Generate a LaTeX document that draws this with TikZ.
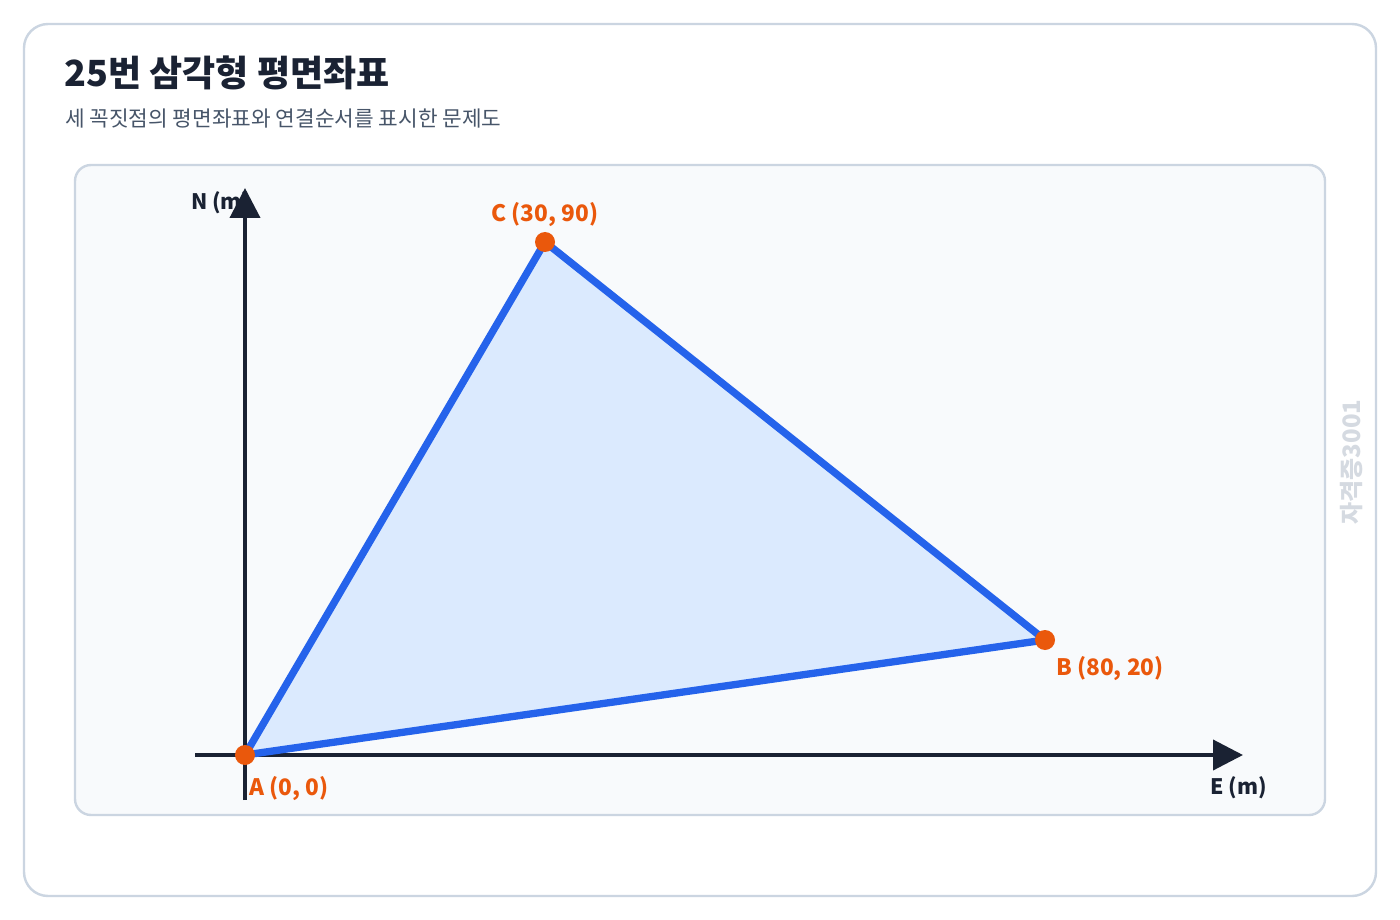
\documentclass[tikz,border=0pt]{standalone}
\usepackage{fontspec}
\setmainfont{Noto Sans CJK KR}
\usepackage{tikz}
\usetikzlibrary{arrows.meta}
\definecolor{edgeblue}{HTML}{2563EB}
\definecolor{fillblue}{HTML}{DBEAFE}
\definecolor{ptorange}{HTML}{EA580C}
\definecolor{axisdark}{HTML}{1A2233}
\definecolor{framegray}{HTML}{CBD5E1}
\definecolor{panelbg}{HTML}{F8FAFC}
\definecolor{subgray}{HTML}{475569}
\definecolor{markgray}{HTML}{D5DAE1}
\tikzset{
  axisline/.style={draw=axisdark,line width=3pt,-{Triangle[length=22.5pt,width=22.5pt]}},
  ptdot/.style={circle,fill=ptorange,inner sep=0pt,minimum size=15pt},
  ptlabel/.style={text=ptorange,font=\bfseries\fontsize{17}{19}\selectfont,inner sep=0pt},
  axislabel/.style={text=axisdark,font=\bfseries\fontsize{16}{18}\selectfont,inner sep=0pt}
}
\begin{document}
\begin{tikzpicture}[x=0.75pt,y=-0.75pt]
\useasboundingbox (0,0) rectangle (1400,920);
\fill[white] (0,0) rectangle (1400,920);
\draw[framegray,line width=1.8pt,rounded corners=18pt] (24,24) rectangle (1376,896);
\node[anchor=west,inner sep=0pt,text=axisdark,font=\bfseries\fontsize{27}{31}\selectfont] (title) at (64,73) {25번 삼각형 평면좌표};
\node[anchor=west,inner sep=0pt,text=subgray,font=\fontsize{16}{18}\selectfont] (subtitle) at (65,119) {세 꼭짓점의 평면좌표와 연결순서를 표시한 문제도};
\draw[framegray,fill=panelbg,line width=1.8pt,rounded corners=12pt] (75,165) rectangle (1325,815);
\node[rotate=90,text=markgray,font=\bfseries\fontsize{18}{20}\selectfont,inner sep=0pt] (mark) at (1352,462) {자격증3001};
% axes
\node[axislabel,anchor=west] (nlab) at (191,203) {N (m)};
\node[axislabel,anchor=west] (elab) at (1210,788) {E (m)};
\coordinate (ybot) at (245,800);
\coordinate (ytop) at (245,188);
\coordinate (xleft) at (195,755);
\coordinate (xright) at (1243,755);
\draw[axisline] (ybot) -- (ytop);
\draw[axisline] (xleft) -- (xright);
% triangle
\coordinate (A) at (245,755);
\coordinate (B) at (1045,640);
\coordinate (C) at (545,242);
\draw[edgeblue,fill=fillblue,line width=5.5pt,line join=round] (A) -- (B) -- (C) -- cycle;
\node[ptdot] (dA) at (A) {};
\node[ptdot] (dB) at (B) {};
\node[ptdot] (dC) at (C) {};
\node[ptlabel,anchor=west] (lA) at (249,789) {A (0, 0)};
\node[ptlabel,anchor=west] (lB) at (1056,669) {B (80, 20)};
\node[ptlabel] (lC) at (545,215) {C (30, 90)};
\end{tikzpicture}
\end{document}
